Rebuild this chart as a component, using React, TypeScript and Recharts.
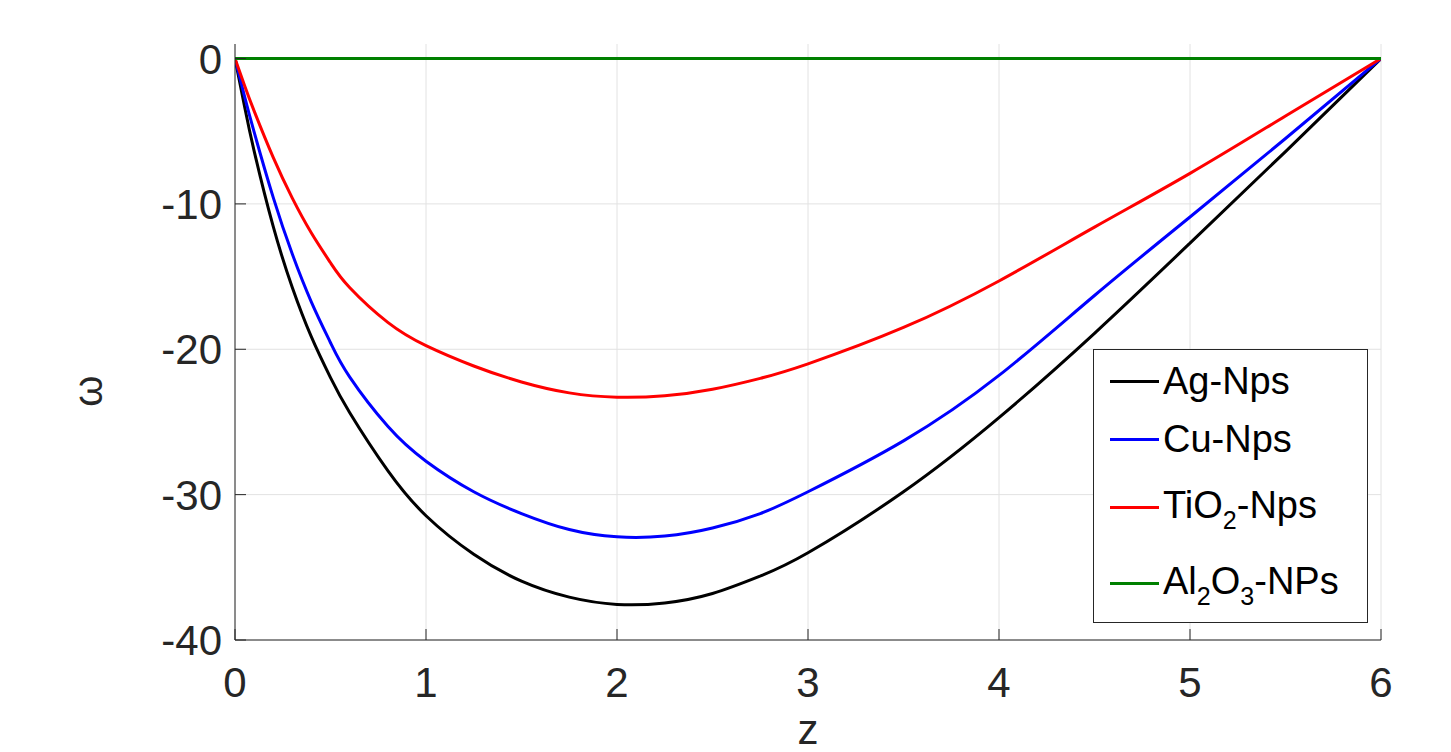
import React from 'react';
import { LineChart, Line, XAxis, YAxis, CartesianGrid, Legend } from 'recharts';

const zValues = [0, 0.05, 0.1, 0.2, 0.3, 0.4, 0.5, 0.6, 0.8, 1.0, 1.25, 1.5, 1.75, 2.0, 2.25, 2.5, 2.75, 3.0, 3.5, 4.0, 4.5, 5.0, 5.5, 6.0];
const agNps = [0, -3.3, -6.35, -11.55, -15.75, -19.15, -21.95, -24.35, -28.35, -31.45, -34.1, -35.95, -37.05, -37.55, -37.45, -36.8, -35.6, -34.0, -29.8, -24.7, -18.9, -12.7, -6.4, 0];
const cuNps = [0, -2.6, -5.05, -9.55, -13.45, -16.75, -19.55, -21.9, -25.3, -27.7, -29.8, -31.3, -32.4, -32.9, -32.85, -32.3, -31.3, -29.8, -26.3, -21.8, -16.3, -10.9, -5.5, 0];
const tio2Nps = [0, -1.85, -3.6, -6.8, -9.6, -12.0, -14.05, -15.75, -18.15, -19.75, -21.15, -22.25, -23.0, -23.3, -23.2, -22.75, -22.0, -21.0, -18.5, -15.3, -11.6, -7.9, -3.95, 0];
const al2o3Nps = [0, 0, 0, 0, 0, 0, 0, 0, 0, 0, 0, 0, 0, 0, 0, 0, 0, 0, 0, 0, 0, 0, 0, 0];

const xTicks = [0, 1, 2, 3, 4, 5, 6];
const yTicks = [-40, -30, -20, -10, 0];
const xLabel = 'z';
const yLabel = 'ω';

const seriesNames = ['Ag-Nps', 'Cu-Nps', 'TiO2-Nps', 'Al2O3-NPs'];
const seriesKeys = ['ag', 'cu', 'tio2', 'al2o3'];
const seriesColors = ['#000000', '#0000ff', '#ff0000', '#008000'];

const data = zValues.map((z, i) => ({
  z,
  ag: agNps[i],
  cu: cuNps[i],
  tio2: tio2Nps[i],
  al2o3: al2o3Nps[i],
}));

const FONT = '"Liberation Sans", Arial, Helvetica, sans-serif';
const AXIS = '#262626';
const TICK_LEN = 11;

const BottomTick = (props: any) => {
  const { x, y, payload } = props;
  return (
    <g>
      <line x1={x} y1={y} x2={x} y2={y - TICK_LEN} stroke={AXIS} strokeWidth={1} />
      <text x={x} y={y + 57} textAnchor="middle" fontSize={42} fontFamily={FONT} fill={AXIS}>
        {payload.value}
      </text>
    </g>
  );
};

const TopTick = (props: any) => {
  const { x, y } = props;
  return <line x1={x} y1={y} x2={x} y2={y + TICK_LEN} stroke={AXIS} strokeWidth={1} />;
};

const LeftTick = (props: any) => {
  const { x, y, payload } = props;
  return (
    <g>
      <line x1={x} y1={y} x2={x + TICK_LEN} y2={y} stroke={AXIS} strokeWidth={1} />
      <text x={x - 13} y={y + 15} textAnchor="end" fontSize={42} fontFamily={FONT} fill={AXIS}>
        {payload.value}
      </text>
    </g>
  );
};

const RightTick = (props: any) => {
  const { x, y } = props;
  return <line x1={x} y1={y} x2={x - TICK_LEN} y2={y} stroke={AXIS} strokeWidth={1} />;
};

const XAxisLabel = (props: any) => {
  const vb = props.viewBox || {};
  return (
    <text x={vb.x + vb.width / 2} y={vb.y + 104} textAnchor="middle" fontSize={42} fontFamily={FONT} fill={AXIS}>
      {xLabel}
    </text>
  );
};

const YAxisLabel = (props: any) => {
  const vb = props.viewBox || {};
  const cx = 102;
  const cy = vb.y + 347;
  return (
    <text x={cx} y={cy} transform={`rotate(-90, ${cx}, ${cy})`} textAnchor="middle" fontSize={40} fontFamily={FONT} fill={AXIS}>
      {yLabel}
    </text>
  );
};

const subStyle = { fontSize: '0.66em', position: 'relative' as const, top: '0.45em' };

const renderName = (name: string) => {
  if (name === 'TiO2-Nps') {
    return (
      <>
        TiO<span style={subStyle}>2</span>-Nps
      </>
    );
  }
  if (name === 'Al2O3-NPs') {
    return (
      <>
        Al<span style={subStyle}>2</span>O<span style={subStyle}>3</span>-NPs
      </>
    );
  }
  return name;
};

const rowCenters = [31, 89, 157, 233];

const LegendContent = () => (
  <div
    style={{
      position: 'relative',
      width: 275,
      height: 274,
      border: `1px solid ${AXIS}`,
      background: '#ffffff',
      boxSizing: 'border-box',
      fontFamily: FONT,
    }}
  >
    {seriesNames.map((name, i) => (
      <div
        key={name}
        style={{
          position: 'absolute',
          left: 16,
          top: rowCenters[i] - 24,
          height: 48,
          display: 'flex',
          alignItems: 'center',
          whiteSpace: 'nowrap',
        }}
      >
        <div style={{ width: 49, height: 3, background: seriesColors[i], marginRight: 4 }} />
        <span style={{ fontSize: 38, color: '#000', lineHeight: '48px' }}>{renderName(name)}</span>
      </div>
    ))}
  </div>
);

export default function App() {
  return (
    <div style={{ position: 'absolute', left: 0, top: 0, width: 1451, height: 752, background: '#fff' }}>
      <LineChart width={1451} height={752} data={data} margin={{ top: 44, right: 70, bottom: 0, left: 0 }}>
        <CartesianGrid xAxisId="b" yAxisId="l" stroke="#e2e2e2" strokeWidth={1} horizontalValues={yTicks} verticalValues={xTicks} />
        <XAxis
          xAxisId="b"
          dataKey="z"
          type="number"
          domain={[0, 6]}
          ticks={xTicks}
          interval={0}
          height={112}
          tickSize={0}
          tickMargin={0}
          tickLine={false}
          tick={<BottomTick />}
          stroke={AXIS}
          allowDataOverflow
          label={<XAxisLabel />}
        />
        <XAxis
          xAxisId="t"
          orientation="top"
          dataKey="z"
          type="number"
          domain={[0, 6]}
          ticks={xTicks}
          interval={0}
          height={0}
          tickSize={0}
          tickMargin={0}
          tickLine={false}
          tick={<TopTick />}
          stroke={AXIS}
        />
        <YAxis
          yAxisId="l"
          type="number"
          domain={[-40, 1]}
          ticks={yTicks}
          interval={0}
          width={235}
          tickSize={0}
          tickMargin={0}
          tickLine={false}
          tick={<LeftTick />}
          stroke={AXIS}
          allowDataOverflow
          label={<YAxisLabel />}
        />
        <YAxis
          yAxisId="r"
          orientation="right"
          type="number"
          domain={[-40, 1]}
          ticks={yTicks}
          interval={0}
          width={0}
          tickSize={0}
          tickMargin={0}
          tickLine={false}
          tick={<RightTick />}
          stroke={AXIS}
        />
        <Legend
          layout="horizontal"
          verticalAlign="middle"
          align="center"
          wrapperStyle={{ left: 1093, top: 349, width: 275, height: 274 }}
          content={<LegendContent />}
        />
        {seriesKeys.map((k, i) => (
          <Line
            key={k}
            xAxisId="b"
            yAxisId="l"
            type="natural"
            dataKey={k}
            name={seriesNames[i]}
            stroke={seriesColors[i]}
            strokeWidth={3}
            dot={false}
            activeDot={false}
            isAnimationActive={false}
          />
        ))}
      </LineChart>
    </div>
  );
}
